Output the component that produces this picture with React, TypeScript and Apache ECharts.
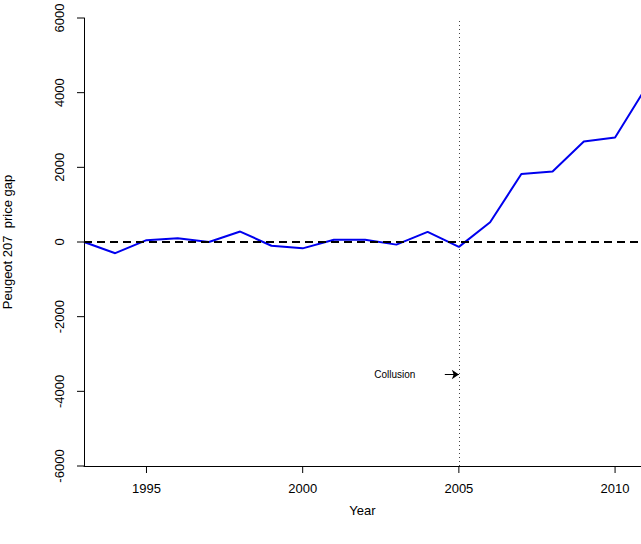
import React, { useEffect, useRef } from "react";
import * as echarts from "echarts";

const years = [1993, 1994, 1995, 1996, 1997, 1998, 1999, 2000, 2001, 2002, 2003, 2004, 2005, 2006, 2007, 2008, 2009, 2010, 2011];
const gap = [0, -300, 50, 100, 0, 280, -100, -170, 60, 60, -70, 270, -130, 530, 1820, 1890, 2690, 2800, 4150];
const xTicks = [1995, 2000, 2005, 2010];
const yTicks = [-6000, -4000, -2000, 0, 2000, 4000, 6000];
const collusionYear = 2005;
const arrowY = -3550;

const App: React.FC = () => {
  const ref = useRef<HTMLDivElement>(null);
  useEffect(() => {
    const chart = echarts.init(ref.current, null, { renderer: "svg" });
    const font = "Liberation Sans, Arial, sans-serif";
    const xMin = 1993;
    const yMin = -6000;
    chart.setOption({
      animation: false,
      grid: { left: 84, right: 0, top: 18, bottom: 78, outerBoundsMode: "none", containLabel: false },
      xAxis: {
        type: "value",
        min: xMin,
        max: 2010.83,
        name: "Year",
        nameLocation: "middle",
        nameGap: 38,
        nameTextStyle: { fontFamily: font, fontSize: 13, color: "#000" },
        axisLine: { onZero: false, lineStyle: { color: "#000" } },
        axisTick: { show: false },
        axisLabel: { customValues: xTicks, margin: 16, formatter: (v: number) => String(v), fontFamily: font, fontSize: 13, color: "#000" },
        splitLine: { show: false },
      },
      yAxis: {
        type: "value",
        min: yMin,
        max: 6000,
        name: "Peugeot 207  price gap",
        nameLocation: "middle",
        nameGap: 70,
        nameTextStyle: { fontFamily: font, fontSize: 13, color: "#000" },
        axisLine: { show: true, onZero: false, lineStyle: { color: "#000" } },
        axisTick: { show: false },
        axisLabel: { customValues: yTicks, rotate: 90, margin: 18, formatter: (v: number) => String(v), fontFamily: font, fontSize: 13, color: "#000" },
        splitLine: { show: false },
      },
      series: [
        {
          type: "line",
          data: years.map((y, i) => [y, gap[i]]),
          symbol: "none",
          clip: true,
          lineStyle: { color: "#0000ee", width: 2 },
          markLine: {
            silent: true,
            symbol: "none",
            label: { show: false },
            data: [
              { yAxis: 0, lineStyle: { type: [8, 5], color: "#000", width: 2 } },
              { xAxis: collusionYear, lineStyle: { type: [1, 3], color: "#444", width: 1 } },
              [
                { coord: [2004.55, arrowY], symbol: "none" },
                { coord: [collusionYear, arrowY], symbol: "arrow", symbolSize: 7, lineStyle: { type: "solid", color: "#000", width: 1 } },
              ],
            ],
          },
          markPoint: {
            silent: true,
            symbol: "circle",
            symbolSize: 0,
            label: { show: true, formatter: "Collusion", fontFamily: font, fontSize: 10, color: "#000" },
            data: [{ coord: [2002.95, arrowY] }],
          },
        },
      ],
    });
    // outward ticks, placed through the axis scales
    const ticks: any[] = [];
    xTicks.forEach((t) => {
      const [px, py] = chart.convertToPixel({ gridIndex: 0 }, [t, yMin]);
      ticks.push({ type: "line", shape: { x1: px, y1: py, x2: px, y2: py + 7 }, style: { stroke: "#000", lineWidth: 1 } });
    });
    yTicks.forEach((t) => {
      const [px, py] = chart.convertToPixel({ gridIndex: 0 }, [xMin, t]);
      ticks.push({ type: "line", shape: { x1: px - 7, y1: py, x2: px, y2: py }, style: { stroke: "#000", lineWidth: 1 } });
    });
    chart.setOption({ graphic: ticks });
    return () => chart.dispose();
  }, []);
  return <div ref={ref} style={{ width: 641, height: 544, position: "absolute", left: 0, top: 0 }} />;
};

export default App;
